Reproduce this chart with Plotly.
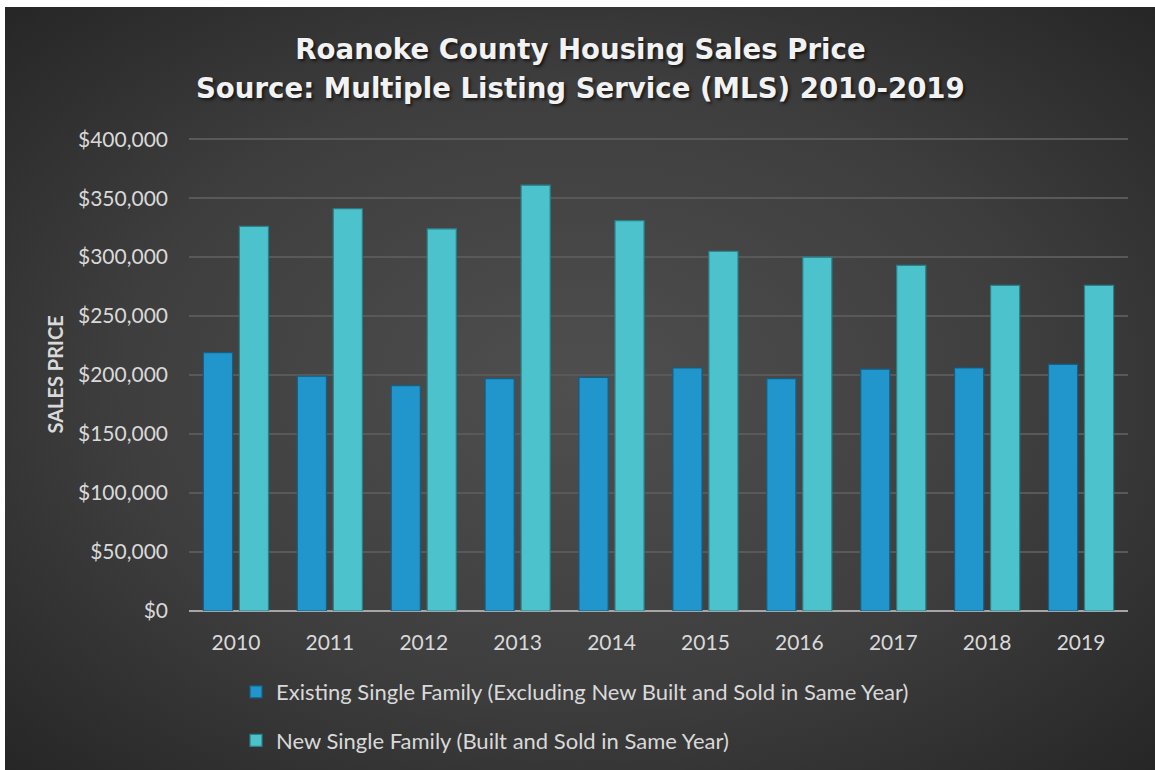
import base64
import plotly.graph_objects as go

# ---- data ----
years = ["2010", "2011", "2012", "2013", "2014", "2015", "2016", "2017", "2018", "2019"]
existing = [219000, 199000, 191000, 197000, 198000, 206000, 197000, 205000, 206000, 209000]
new_built = [326000, 341000, 324000, 361000, 331000, 305000, 300000, 293000, 276000, 276000]
name_existing = "Existing Single Family (Excluding New Built and Sold in Same Year)"
name_new = "New Single Family (Built and Sold in Same Year)"
title_line1 = "Roanoke County Housing Sales Price"
title_line2 = "Source: Multiple Listing Service (MLS) 2010-2019"
y_title = "SALES PRICE"
y_ticks = [0, 50000, 100000, 150000, 200000, 250000, 300000, 350000, 400000]

# ---- figure geometry ----
W, H = 1155, 770
L, R, T, B = 189, 27, 138, 159
pw, ph = W - L - R, H - T - B

TXT = "#d9d9d9"
FONT = "Lato"
TFONT = "DejaVu Sans"

svg = (
    "<svg xmlns='http://www.w3.org/2000/svg' width='1150' height='763' preserveAspectRatio='none'>"
    "<defs><radialGradient id='g' cx='0.5' cy='0.5' r='0.72'>"
    "<stop offset='0' stop-color='#4f4f4f'/><stop offset='0.55' stop-color='#3e3e3e'/>"
    "<stop offset='1' stop-color='#252525'/></radialGradient></defs>"
    "<rect width='100%' height='100%' fill='url(#g)'/></svg>"
)
bg_uri = "data:image/svg+xml;base64," + base64.b64encode(svg.encode()).decode()

fig = go.Figure()
fig.add_trace(go.Bar(
    x=years, y=existing, name=name_existing, legendgroup="a",
    marker=dict(color="#2196cc", line=dict(color="#145f84", width=1.2)),
))
fig.add_trace(go.Bar(
    x=years, y=new_built, name=name_new, legendgroup="b",
    marker=dict(color="#4bc2cc", line=dict(color="#2a7f88", width=1.2)),
))

tfont = dict(family=TFONT, size=27.6, color="#f2f2f2", weight="bold",
             shadow="2px 2px 3px rgba(0,0,0,0.6)")
cx = (W / 2 + 3 - L) / pw  # horizontal centre of the figure, in paper units

fig.update_layout(
    width=W, height=H,
    margin=dict(l=L, r=R, t=T, b=B, autoexpand=False),
    paper_bgcolor="white",
    plot_bgcolor="rgba(0,0,0,0)",
    barmode="group", bargap=0.234, bargroupgap=0.19,
    font=dict(family=FONT, color=TXT, size=20),
    title=dict(
        text=title_line1, x=(W / 2 + 3) / W, xanchor="center", xref="container",
        y=1 - 49 / H, yanchor="middle", font=tfont,
    ),
    annotations=[
        dict(text=title_line2, x=cx, xanchor="center", xref="paper",
             y=(H - B - 89) / ph, yref="paper", yanchor="middle", showarrow=False, font=tfont),
        dict(text="<b>" + y_title + "</b>", textangle=-90, x=(54 - L) / pw, xref="paper",
             xanchor="center", y=0.5, yref="paper", yanchor="middle", showarrow=False,
             font=dict(family=FONT, size=20, color=TXT)),
    ],
    xaxis=dict(
        type="category", showgrid=False, ticks="", tickfont=dict(size=21, color=TXT),
        ticklabelstandoff=17, showline=False,
    ),
    yaxis=dict(
        range=[0, 401000], tickvals=y_ticks, tickformat="$,.0f", ticks="",
        tickfont=dict(size=21, color=TXT), ticklabelstandoff=20,
        gridcolor="#595959", gridwidth=1.5,
        zeroline=True, zerolinecolor="#a6a6a6", zerolinewidth=2,
    ),
    legend=dict(
        orientation="v", x=(236 - L) / pw, xanchor="left", y=-0.127, yanchor="top",
        font=dict(size=22, color=TXT), bgcolor="rgba(0,0,0,0)",
        traceorder="grouped", tracegroupgap=17, itemwidth=30,
    ),
    images=[dict(
        source=bg_uri, xref="paper", yref="paper",
        x=(5 - L) / pw, y=(H - B - 7) / ph, sizex=(W - 5) / pw, sizey=(H - 7) / ph,
        xanchor="left", yanchor="top", sizing="stretch", layer="below",
    )],
)

fig.write_html(
    "out.html",
    config={"displayModeBar": False},
    post_script="document.body.style.margin='0';document.body.style.overflow='hidden';",
)
